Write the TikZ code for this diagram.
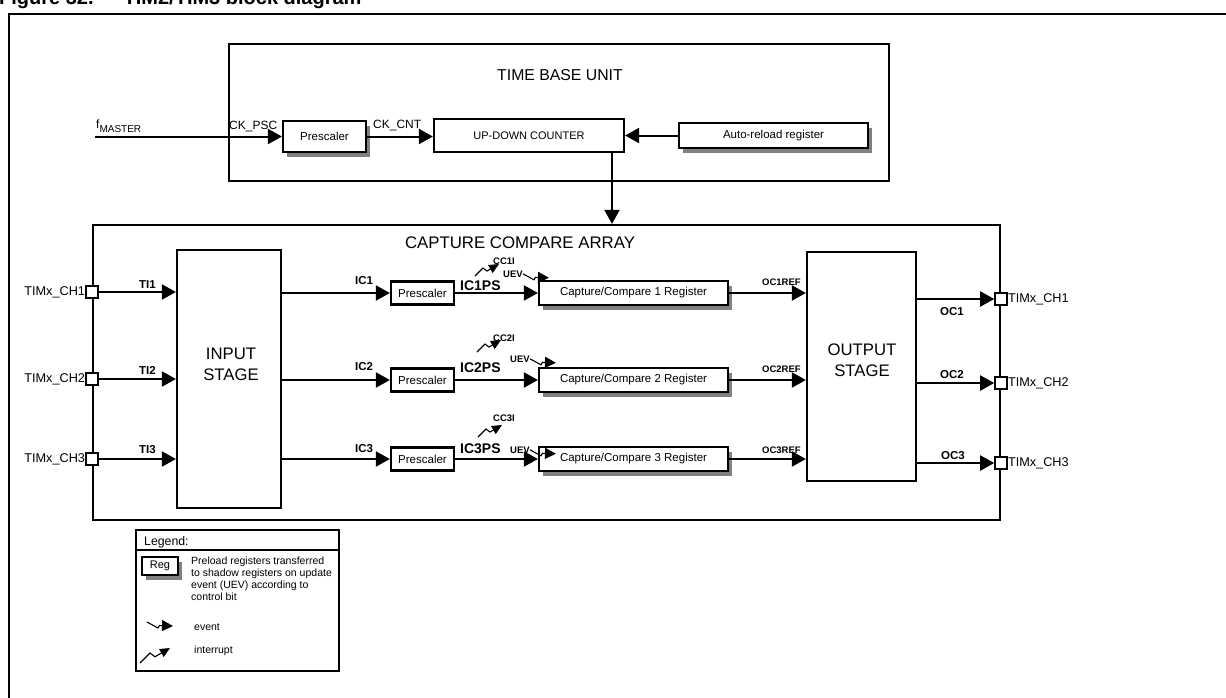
\documentclass[tikz,border=0pt]{standalone}
\usepackage{fontspec}
\setmainfont{Liberation Sans}
\usetikzlibrary{arrows.meta,shadows}

\begin{document}
\begin{tikzpicture}[x=1pt, y=-1pt,
	box/.style={draw, line width=2.2pt, fill=white, inner sep=0pt, align=center},
	shbox/.style={box, general shadow={fill=black!50, shadow xshift=4pt, shadow yshift=-5pt}},
	port/.style={draw, line width=1.6pt, fill=white, minimum size=12pt, inner sep=0pt, label distance=6pt},
	arr/.style={line width=2pt, -{Triangle[length=14pt,width=15pt]}},
	txt/.style={inner sep=0pt, font=\fontsize{11.5}{13}\selectfont},
	pin/.style={inner sep=0pt, font=\fontsize{12.7}{15}\selectfont},
	sig/.style={inner sep=0pt, anchor=base west, font=\bfseries\fontsize{11.5}{13}\selectfont},
	sigps/.style={inner sep=0pt, anchor=base west, font=\bfseries\fontsize{14}{16}\selectfont},
	flag/.style={inner sep=0pt, anchor=base west, font=\bfseries\fontsize{9.5}{11}\selectfont},
	stage/.style={inner sep=0pt, align=center, font=\fontsize{16.7}{21}\selectfont},
	evt/.pic={\draw[line width=1.1pt, -{Triangle[length=11pt,width=11pt]}] (0,0) -- (11,6) -- (12.5,3.5) -- (26,4);},
	irq/.pic={\draw[line width=1.1pt, -{Triangle[length=10pt,width=9pt]}] (0,0) -- (8,-8) -- (12,-5) -- (24,-12);}
	]

		\useasboundingbox (0,0) rectangle (1226,697);

		% Title and frame
		\node[inner sep=0pt, anchor=base west, font=\bfseries\fontsize{20}{24}\selectfont] (title) at (-1,4) {Figure 32.\hspace{30pt}TIM2/TIM3 block diagram};
		\draw[line width=2.2pt] (9,14) rectangle (1240,720);

		% Time base unit
		\node[box, minimum width=660pt, minimum height=137pt] (tbu) at (559,112.5) {};
		\node[txt, anchor=base, font=\fontsize{15.8}{18}\selectfont] (tbulbl) at (560,80) {TIME BASE UNIT};
		\node[shbox, txt, minimum width=83pt, minimum height=31pt] (psc0) at (324.5,136.5) {Prescaler};
		\node[box, txt, font=\fontsize{11}{13}\selectfont, minimum width=190pt, minimum height=33pt] (cnt) at (529,135.5) {UP-DOWN COUNTER};
		\node[shbox, txt, minimum width=189pt, minimum height=25pt] (arl) at (773.5,135.5) {Auto-reload register};

		\coordinate (fm) at (95,136.5);
		\node[pin, anchor=base west, font=\fontsize{12}{14}\selectfont] (fmlbl) at (96,128) {f\raisebox{-4pt}{\fontsize{10}{12}\selectfont MASTER}};
		\node[pin, anchor=base west, font=\fontsize{12}{14}\selectfont] (ckpsc) at (229,129) {CK\_PSC};
		\node[pin, anchor=base west, font=\fontsize{12}{14}\selectfont] (ckcnt) at (373,128) {CK\_CNT};
		\draw[arr] (fm) -- (psc0.west);
		\draw[arr] (psc0.east) -- (psc0.east -| cnt.west);
		\draw[arr] (arl.west) -- (arl.west -| cnt.east);

		% Capture compare array
		\node[box, minimum width=907pt, minimum height=295pt] (cca) at (546.5,372.5) {};
		\node[txt, anchor=base, font=\fontsize{16.8}{19}\selectfont] (ccalbl) at (520,248) {CAPTURE COMPARE ARRAY};
		\coordinate (tap) at (612,0);
		\draw[arr] (cnt.south -| tap) -- (cca.north -| tap);

		\node[box, minimum width=104pt, minimum height=258pt] (instage) at (229,379) {};
		\node[stage] (inlbl) at (231,364) {INPUT\\STAGE};
		\node[box, minimum width=109pt, minimum height=229pt] (outstage) at (861.5,366.5) {};
		\node[stage] (outlbl) at (862,360) {OUTPUT\\STAGE};

		% Input pins
		\node[port, label={[pin]left:TIMx\_CH1}] (in1) at (92,292) {};
		\node[port, label={[pin]left:TIMx\_CH2}] (in2) at (92,379) {};
		\node[port, label={[pin]left:TIMx\_CH3}] (in3) at (92,459) {};
		\draw[arr] (in1.east) -- (in1 -| instage.west);
		\draw[arr] (in2.east) -- (in2 -| instage.west);
		\draw[arr] (in3.east) -- (in3 -| instage.west);
		\node[sig] (ti1) at (139,288) {TI1};
		\node[sig] (ti2) at (139,374) {TI2};
		\node[sig] (ti3) at (139,453) {TI3};

		% Channel 1
		\node[box, txt, minimum width=63pt, minimum height=23pt] (psc1) at (422.5,293) {Prescaler};
		\node[shbox, txt, minimum width=189pt, minimum height=24pt] (ccr1) at (633.5,293) {Capture/Compare 1 Register};
		\draw[arr] (instage.east |- psc1) -- (psc1.west);
		\draw[arr] (psc1.east) -- (ccr1.west);
		\draw[arr] (ccr1.east) -- (ccr1.east -| outstage.west);
		\node[sig] (ic1) at (355,284) {IC1};
		\node[sigps] (ic1ps) at (460,290) {IC1PS};
		\node[flag] (cc1i) at (493,264) {CC1I};
		\node[flag] (uev1) at (503,277) {UEV};
		\node[flag] (oc1ref) at (762,285) {OC1REF};
		\pic at (475,276) {irq};
		\pic at (uev1.east) {evt};

		% Channel 2
		\node[box, txt, minimum width=63pt, minimum height=23pt] (psc2) at (422.5,380) {Prescaler};
		\node[shbox, txt, minimum width=189pt, minimum height=24pt] (ccr2) at (633.5,380) {Capture/Compare 2 Register};
		\draw[arr] (instage.east |- psc2) -- (psc2.west);
		\draw[arr] (psc2.east) -- (ccr2.west);
		\draw[arr] (ccr2.east) -- (ccr2.east -| outstage.west);
		\node[sig] (ic2) at (355,370) {IC2};
		\node[sigps] (ic2ps) at (460,372) {IC2PS};
		\node[flag] (cc2i) at (493,341) {CC2I};
		\node[flag] (uev2) at (510,362) {UEV};
		\node[flag] (oc2ref) at (762,372) {OC2REF};
		\pic at (477,352) {irq};
		\pic at (uev2.east) {evt};

		% Channel 3
		\node[box, txt, minimum width=63pt, minimum height=23pt] (psc3) at (422.5,459) {Prescaler};
		\node[shbox, txt, minimum width=189pt, minimum height=24pt] (ccr3) at (633.5,459) {Capture/Compare 3 Register};
		\draw[arr] (instage.east |- psc3) -- (psc3.west);
		\draw[arr] (psc3.east) -- (ccr3.west);
		\draw[arr] (ccr3.east) -- (ccr3.east -| outstage.west);
		\node[sig] (ic3) at (355,452) {IC3};
		\node[sigps] (ic3ps) at (460,453) {IC3PS};
		\node[flag] (cc3i) at (493,421) {CC3I};
		\node[flag] (uev3) at (510,453) {UEV};
		\node[flag] (oc3ref) at (762,453) {OC3REF};
		\pic at (478,437) {irq};
		\pic at (uev3.east) {evt};

		% Output pins
		\node[port, label={[pin]right:TIMx\_CH1}] (out1) at (1001,299) {};
		\node[port, label={[pin]right:TIMx\_CH2}] (out2) at (1001,383) {};
		\node[port, label={[pin]right:TIMx\_CH3}] (out3) at (1001,463) {};
		\draw[arr] (outstage.east |- out1) -- (out1.west);
		\draw[arr] (outstage.east |- out2) -- (out2.west);
		\draw[arr] (outstage.east |- out3) -- (out3.west);
		\node[sig] (oc1) at (940,315) {OC1};
		\node[sig] (oc2) at (940,378) {OC2};
		\node[sig] (oc3) at (941,459) {OC3};

		% Legend
		\node[box, minimum width=203pt, minimum height=141pt] (legend) at (237.5,600.5) {};
		\coordinate (lghead) at (0,550);
		\draw[line width=2.2pt] (legend.west |- lghead) -- (legend.east |- lghead);
		\node[txt, anchor=base west, font=\fontsize{12.3}{14}\selectfont] (lgtitle) at (144,545) {Legend:};
		\node[shbox, txt, font=\fontsize{11}{13}\selectfont, minimum width=36pt, minimum height=18pt] (reg) at (160,566) {Reg};
		\node[txt, anchor=north west, align=left, font=\fontsize{10.5}{12}\selectfont] (regtxt) at (191,557) {Preload registers transferred\\to shadow registers on update\\event (UEV) according to\\control bit};
		\pic at (147,622) {evt};
		\node[txt, anchor=base west, font=\fontsize{10.5}{12}\selectfont] (evtlbl) at (194,630) {event};
		\pic[scale=1.25] at (140,663) {irq};
		\node[txt, anchor=base west, font=\fontsize{10.5}{12}\selectfont] (irqlbl) at (194,653) {interrupt};

	\end{tikzpicture}
\end{document}
